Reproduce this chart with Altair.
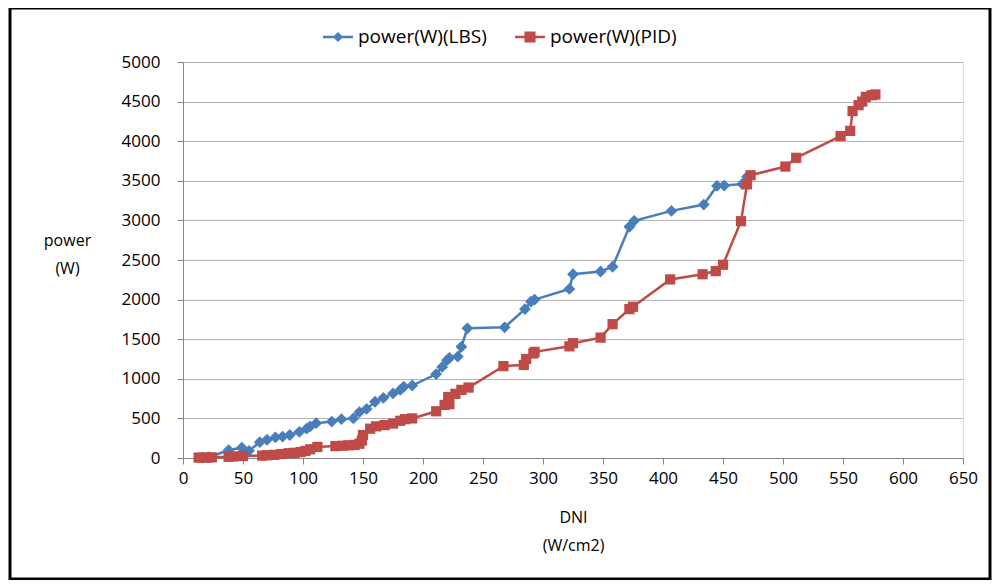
import altair as alt
import pandas as pd

# ---- data ----
lbs_dni = [16, 22, 38, 49, 55, 64, 70, 77, 83, 89, 97, 103, 106, 111, 124, 132, 142,
           147, 153, 160, 167, 175, 181, 184, 191, 211, 216, 220, 222, 229, 232, 237,
           268, 285, 290, 293, 322, 325, 348, 358, 372, 376, 407, 434, 445, 451, 466, 470]
lbs_power = [5, 10, 100, 130, 90, 200, 230, 260, 270, 290, 330, 370, 400, 440, 460, 490, 500,
             580, 620, 710, 760, 815, 860, 900, 915, 1060, 1150, 1235, 1265, 1280, 1405, 1637,
             1650, 1880, 1975, 2000, 2135, 2320, 2355, 2415, 2920, 2995, 3120, 3200, 3435, 3440, 3460, 3550]

pid_dni = [13, 17, 20, 24, 38, 42, 50, 66, 70, 76, 82, 88, 93, 98, 102, 106, 112, 127, 133,
           138, 143, 147, 149, 150, 156, 161, 168, 175, 181, 185, 191, 211, 218, 221, 222, 227,
           232, 238, 267, 284, 286, 292, 293, 322, 325, 348, 358, 372, 375, 406, 433, 444, 450,
           465, 470, 473, 502, 511, 548, 556, 558, 563, 566, 569, 574, 577]
pid_power = [5, 5, 5, 8, 15, 20, 25, 30, 35, 40, 50, 60, 65, 75, 90, 110, 140, 150, 155,
             160, 165, 180, 220, 290, 370, 400, 415, 435, 470, 490, 500, 590, 670, 770, 680, 810,
             860, 890, 1160, 1175, 1250, 1320, 1340, 1410, 1450, 1520, 1690, 1880, 1910, 2255, 2320, 2360, 2440,
             2990, 3455, 3570, 3680, 3790, 4065, 4130, 4380, 4455, 4500, 4560, 4580, 4590]

series_names = ["power(W)(LBS)", "power(W)(PID)"]
series_colors = ["#4A7EBB", "#BE4B48"]
x_ticks = list(range(0, 651, 50))
y_ticks = list(range(0, 5001, 500))

rows = []
for i, (d, p) in enumerate(zip(lbs_dni, lbs_power)):
    rows.append({"series": series_names[0], "dni": d, "power": p, "idx": i})
for i, (d, p) in enumerate(zip(pid_dni, pid_power)):
    rows.append({"series": series_names[1], "dni": d, "power": p, "idx": i})
df = pd.DataFrame(rows)

FONT = "Open Sans"

x_enc = alt.X("dni:Q", scale=alt.Scale(domain=[0, 650], nice=False),
              axis=alt.Axis(values=x_ticks, grid=False, title=["DNI", "(W/cm2)"], format="d",
                            titleY=59, titleBaseline="middle", titleLineHeight=28,
                            titleFontSize=16, titleFontWeight="normal", titleFont=FONT,
                            titleColor="#000000",
                            labelFont=FONT, labelFontSize=17, labelColor="#000000",
                            labelPadding=6, tickSize=6, tickColor="#868686",
                            domainColor="#868686", labelFlush=False))
y_enc = alt.Y("power:Q", scale=alt.Scale(domain=[0, 5000], nice=False),
              axis=alt.Axis(values=y_ticks, grid=True, gridColor="#B4B4B4", format="d",
                            title=["power", "(W)"], titleAngle=0, titleX=-116, titleY=178,
                            titleAlign="center", titleBaseline="middle", titleLineHeight=28,
                            titleFontSize=16, titleFontWeight="normal", titleFont=FONT,
                            titleColor="#000000",
                            labelFont=FONT, labelFontSize=17, labelColor="#000000",
                            labelPadding=17, tickSize=6, tickColor="#868686",
                            domainColor="#868686"))

color_scale = alt.Scale(domain=series_names, range=series_colors)

base = alt.Chart(df)

lines = base.mark_line(strokeWidth=2.5).encode(
    x=x_enc, y=y_enc,
    color=alt.Color("series:N", scale=color_scale, legend=None),
    order=alt.Order("idx:Q"),
    detail="series:N",
)

points = base.mark_point(filled=True, opacity=1).encode(
    x=x_enc, y=y_enc,
    color=alt.Color("series:N", scale=color_scale, legend=None),
    shape=alt.Shape("series:N", scale=alt.Scale(domain=series_names, range=["diamond", "square"]),
                    legend=None),
    size=alt.Size("series:N", scale=alt.Scale(domain=series_names, range=[140, 105]), legend=None),
)

legend_paths = [
    "M-1,-0.085H1V0.085H-1Z M0,-0.34L0.34,0L0,0.34L-0.34,0Z",
    "M-1,-0.085H1V0.085H-1Z M-0.37,-0.37H0.37V0.37H-0.37Z",
]
leg = alt.Legend(title=None, orient="none", legendX=140, legendY=-40, direction="horizontal",
                 labelFont=FONT, labelFontSize=19, labelColor="#000000", labelOffset=5,
                 symbolSize=900, symbolOpacity=1, symbolStrokeWidth=0, columnPadding=28,
                 padding=0, labelLimit=300)
legend_layer = base.mark_point(filled=True, opacity=0, size=900).encode(
    x=x_enc, y=y_enc,
    color=alt.Color("series:N", scale=color_scale, legend=leg),
    shape=alt.Shape("series:N", scale=alt.Scale(domain=series_names, range=legend_paths), legend=leg),
)

frame = alt.Chart(pd.DataFrame({"k": [1]})).mark_rect(
    fill=None, stroke="#000000", strokeWidth=3).encode(
    x=alt.value(-173), x2=alt.value(807), y=alt.value(-54), y2=alt.value(517))

chart = alt.layer(lines, points, legend_layer, frame).resolve_scale(
    color="independent", shape="independent", size="independent"
).properties(
    width=780, height=396,
    autosize=alt.AutoSizeParams(type="none"),
    padding={"left": 175, "top": 54, "right": 29, "bottom": 122},
).configure_view(stroke=None).configure(background="#FFFFFF")

chart.save("out.html", embed_options={"renderer": "svg", "actions": False})
